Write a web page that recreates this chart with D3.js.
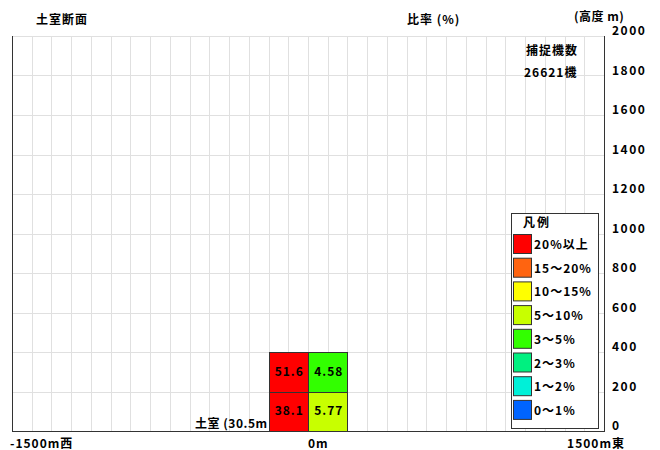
<!DOCTYPE html>
<html><head><meta charset="utf-8">
<script src="https://cdn.jsdelivr.net/npm/d3@7"></script>
<style>
html,body{margin:0;padding:0;background:#fff;}
svg{display:block;}
text{font-family:"Noto Sans CJK JP","Noto Sans",sans-serif;font-weight:bold;font-size:12px;fill:#000;}
</style></head>
<body>
<svg id="chart" width="660" height="450"></svg>
<script>
// ---- data ----
const lateralBins = [[-200, 0], [0, 200]];          // m (west -> east)
const altitudeBins = [[0, 200], [200, 400]];        // m
const ratioValues = [[38.1, 5.77], [51.6, 4.58]];   // % rows: altitude, cols: lateral
const captureCount = 26621;
const yTicks = [0, 200, 400, 600, 800, 1000, 1200, 1400, 1600, 1800, 2000];
const xGridStep = 100;
const legendLabels = ["20%以上", "15～20%", "10～15%", "5～10%", "3～5%", "2～3%", "1～2%", "0～1%"];
const legendThresholds = [20, 15, 10, 5, 3, 2, 1, 0];
const legendColors = ["#ff0000", "#ff6410", "#ffff00", "#c8ff00", "#32ff00", "#00f080", "#00f0d8", "#0064ff"];
const stationLabel = "土室 (30.5m";

// ---- layout ----
const svg = d3.select("#chart");
const L = 12, R = 604, T = 36, B = 431;
const x = d3.scaleLinear().domain([-1500, 1500]).range([L, R]);
const y = d3.scaleLinear().domain([0, 2000]).range([B, T]);
const colorOf = v => {
  for (let i = 0; i < legendThresholds.length; i++) if (v >= legendThresholds[i]) return legendColors[i];
  return legendColors[legendColors.length - 1];
};

// grid
const grid = svg.append("g");
grid.selectAll("line.v").data(d3.range(-1500 + xGridStep, 1500, xGridStep)).join("line")
  .attr("x1", d => Math.round(x(d)) + 0.5).attr("x2", d => Math.round(x(d)) + 0.5)
  .attr("y1", T).attr("y2", B).attr("stroke", "#e0e0e0").attr("stroke-width", 1);
grid.selectAll("line.h").data(yTicks.filter(d => d > 0)).join("line")
  .attr("x1", L).attr("x2", R)
  .attr("y1", d => Math.round(y(d)) + 0.5).attr("y2", d => Math.round(y(d)) + 0.5)
  .attr("stroke", "#e0e0e0").attr("stroke-width", 1);

// cells
const cells = [];
altitudeBins.forEach((a, i) => lateralBins.forEach((l, j) => cells.push({a, l, v: ratioValues[i][j]})));
const cg = svg.append("g");
cg.selectAll("rect").data(cells).join("rect")
  .attr("x", d => Math.round(x(d.l[0])) + 0.5)
  .attr("y", d => Math.round(y(d.a[1])) + 0.5)
  .attr("width", d => Math.round(x(d.l[1])) - Math.round(x(d.l[0])))
  .attr("height", d => Math.round(y(d.a[0])) - Math.round(y(d.a[1])))
  .attr("fill", d => colorOf(d.v)).attr("stroke", "#333").attr("stroke-width", 1);
cg.selectAll("text").data(cells).join("text")
  .attr("x", d => x((d.l[0] + d.l[1]) / 2) + 1)
  .attr("y", d => y((d.a[0] + d.a[1]) / 2) + 4)
  .attr("text-anchor", "middle").attr("letter-spacing", "1px")
  .text(d => d.v);

// axes lines
svg.append("line").attr("x1", L + 0.5).attr("x2", L + 0.5).attr("y1", T).attr("y2", B).attr("stroke", "#333");
svg.append("line").attr("x1", R + 0.5).attr("x2", R + 0.5).attr("y1", T).attr("y2", B + 1).attr("stroke", "#333");
svg.append("line").attr("x1", L).attr("x2", R + 1).attr("y1", B + 0.5).attr("y2", B + 0.5).attr("stroke", "#333");

// right y-axis labels
const yAxis = d3.axisRight(y).tickValues(yTicks).tickFormat(d3.format("d")).tickSize(0).tickPadding(8);
const ya = svg.append("g").attr("transform", `translate(${R},0)`).call(yAxis);
ya.select(".domain").remove();
ya.selectAll("text").attr("dy", "-0.12em").attr("font-size", 12).attr("font-weight", "bold")
  .attr("font-family", '"Noto Sans CJK JP",sans-serif').attr("letter-spacing", "1.5px");

// x labels
svg.append("text").attr("x", x(-1500) - 2).attr("y", 448).attr("letter-spacing", "1px").text("-1500m西");
svg.append("text").attr("x", x(0)).attr("y", 448).attr("letter-spacing", "1px").text("0m");
svg.append("text").attr("x", x(1500) + 21).attr("y", 448).attr("text-anchor", "end").attr("letter-spacing", "1px").text("1500m東");

// titles
svg.append("text").attr("x", 36).attr("y", 24).attr("letter-spacing", "1px").text("土室断面");
svg.append("text").attr("x", 407).attr("y", 24).attr("letter-spacing", "1px").text("比率 (%)");
svg.append("text").attr("x", 574).attr("y", 21).attr("letter-spacing", "0.5px").text("(高度 m)");
svg.append("text").attr("x", 526).attr("y", 55).attr("letter-spacing", "1px").text("捕捉機数");
svg.append("text").attr("x", 524).attr("y", 77).attr("letter-spacing", "1px").text(captureCount + "機");

// station label
svg.append("text").attr("x", x(-200) - 1).attr("y", 428).attr("text-anchor", "end").attr("letter-spacing", "0.5px").text(stationLabel);

// legend
const lg = svg.append("g");
lg.append("rect").attr("x", 511.5).attr("y", 213.5).attr("width", 87).attr("height", 215)
  .attr("fill", "#fff").attr("stroke", "#333");
lg.append("text").attr("x", 537).attr("y", 227).attr("text-anchor", "middle").attr("letter-spacing", "2px").text("凡例");
const items = lg.selectAll("g.item").data(legendLabels).join("g")
  .attr("transform", (d, i) => `translate(0,${234 + i * 23.7})`);
items.append("rect").attr("x", 513.5).attr("y", 0.5).attr("width", 18).attr("height", 19)
  .attr("fill", (d, i) => legendColors[i]).attr("stroke", "#333");
items.append("text").attr("x", 534).attr("y", 15).attr("letter-spacing", "1px").text(d => d);
</script>
</body></html>
